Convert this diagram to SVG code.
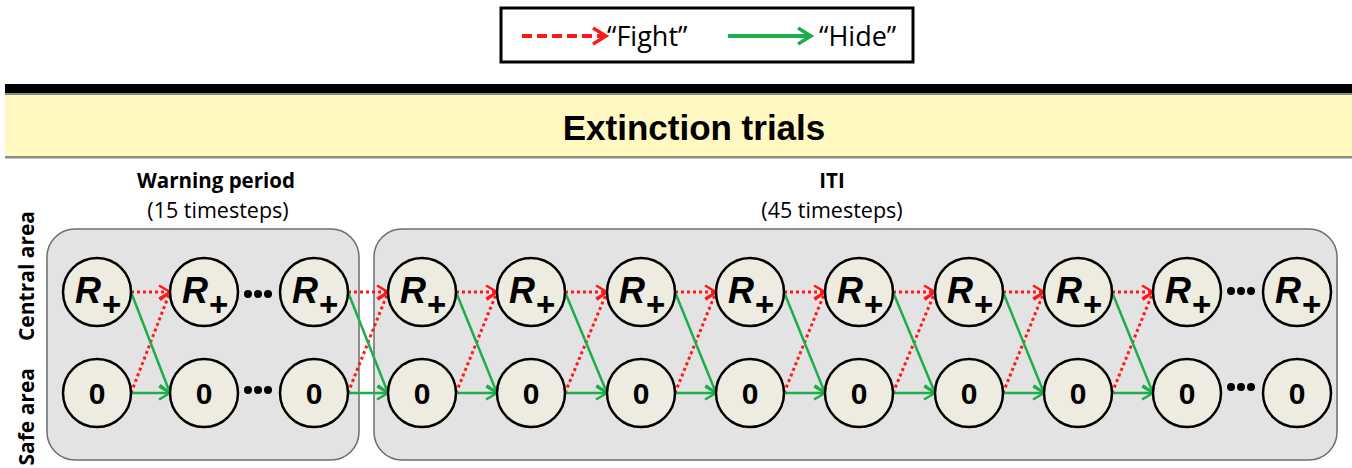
<svg xmlns="http://www.w3.org/2000/svg" width="1352" height="468" viewBox="0 0 1352 468">
<defs>
<style>
.lbl{font-family:"Open Sans","Liberation Sans",sans-serif;fill:#000}
.b{font-weight:bold}
.box{fill:#E3E3E3;stroke:#6E6E6E;stroke-width:1.5}
.node circle{fill:#EEEBE1;stroke:#000;stroke-width:2.5}
.rt{font-family:"Liberation Sans",Arial,sans-serif;font-weight:bold;font-style:italic;font-size:36px}
.pt{font-family:"Liberation Sans",Arial,sans-serif;font-weight:bold;font-size:33px}
.zt{font-family:"Liberation Sans",Arial,sans-serif;font-weight:bold;font-size:30px;text-anchor:middle}
.fight{fill:none;stroke:#FF1A1A;stroke-width:3;stroke-dasharray:3 3;marker-end:url(#ar)}
.hide{fill:none;stroke:#1DAE4C;stroke-width:2.5;marker-end:url(#ag)}
.dot{fill:#000}
</style>
<marker id="ar" markerUnits="userSpaceOnUse" markerWidth="16" markerHeight="16" refX="13" refY="8" orient="auto"><path d="M2,1.5 L13,8 L2,14.5" fill="none" stroke="#FF1A1A" stroke-width="2.5"/></marker>
<marker id="ag" markerUnits="userSpaceOnUse" markerWidth="16" markerHeight="16" refX="13" refY="8" orient="auto"><path d="M2,1.5 L13,8 L2,14.5" fill="none" stroke="#1DAE4C" stroke-width="2.5"/></marker>
<marker id="alr" markerUnits="userSpaceOnUse" markerWidth="20" markerHeight="20" refX="16" refY="10" orient="auto"><path d="M3,2 L16,10 L3,18" fill="none" stroke="#FF1A1A" stroke-width="3.5"/></marker>
<marker id="alg" markerUnits="userSpaceOnUse" markerWidth="20" markerHeight="20" refX="16" refY="10" orient="auto"><path d="M3,2 L16,10 L3,18" fill="none" stroke="#1DAE4C" stroke-width="3.5"/></marker>
</defs>
<rect width="1352" height="468" fill="#fff"/>

<g id="legend">
<rect x="501" y="8" width="412" height="54" fill="#fff" stroke="#000" stroke-width="3"/>
<line x1="522" y1="36" x2="606" y2="36" stroke="#FF1A1A" stroke-width="4" stroke-dasharray="10 5" marker-end="url(#alr)"/>
<text class="lbl" x="607" y="46" font-size="27">“Fight”</text>
<line x1="728" y1="36" x2="811" y2="36" stroke="#1DAE4C" stroke-width="4" marker-end="url(#alg)"/>
<text class="lbl" x="819" y="46" font-size="27">“Hide”</text>
</g>

<g id="header">
<rect x="5" y="84" width="1347" height="9" fill="#000"/>
<rect x="5" y="93" width="1347" height="2" fill="#8C8C78"/>
<rect x="5" y="95" width="1347" height="61" fill="#FFF8C1"/>
<rect x="5" y="156" width="1347" height="2.5" fill="#8C8C80"/>
<text x="694" y="140" font-family="Liberation Sans, Arial, sans-serif" font-weight="bold" font-size="35" text-anchor="middle">Extinction trials</text>
</g>

<g id="labels">
<text class="lbl b" x="216" y="188" font-size="20.5" text-anchor="middle">Warning period</text>
<text class="lbl" x="218" y="218" font-size="21.5" text-anchor="middle">(15 timesteps)</text>
<text class="lbl b" x="832" y="188" font-size="20.5" text-anchor="middle">ITI</text>
<text class="lbl" x="832" y="218" font-size="21.5" text-anchor="middle">(45 timesteps)</text>
<text class="lbl b" transform="translate(34,276) rotate(-90)" font-size="21" text-anchor="middle">Central area</text>
<text class="lbl b" transform="translate(34,368) rotate(-90)" font-size="21" text-anchor="end">Safe area</text>
</g>

<g id="warning-box"><rect class="box" x="47" y="229" width="312" height="231" rx="28"/></g>
<g id="iti-box"><rect class="box" x="374" y="229" width="963" height="231" rx="28"/></g>

<g id="connectors">
<path class="fight" d="M131,292 H170"/><path class="fight" d="M131,393 L170,292"/><path class="hide" d="M131,292 L170,393"/><path class="hide" d="M131,393 H170"/>
<path class="fight" d="M348,292 H388"/><path class="fight" d="M348,393 L388,292"/><path class="hide" d="M348,292 L388,393"/><path class="hide" d="M348,393 H388"/>
<path class="fight" d="M456,292 H497"/><path class="fight" d="M456,393 L497,292"/><path class="hide" d="M456,292 L497,393"/><path class="hide" d="M456,393 H497"/>
<path class="fight" d="M565,292 H607"/><path class="fight" d="M565,393 L607,292"/><path class="hide" d="M565,292 L607,393"/><path class="hide" d="M565,393 H607"/>
<path class="fight" d="M675,292 H716"/><path class="fight" d="M675,393 L716,292"/><path class="hide" d="M675,292 L716,393"/><path class="hide" d="M675,393 H716"/>
<path class="fight" d="M784,292 H825"/><path class="fight" d="M784,393 L825,292"/><path class="hide" d="M784,292 L825,393"/><path class="hide" d="M784,393 H825"/>
<path class="fight" d="M893,292 H935"/><path class="fight" d="M893,393 L935,292"/><path class="hide" d="M893,292 L935,393"/><path class="hide" d="M893,393 H935"/>
<path class="fight" d="M1003,292 H1044"/><path class="fight" d="M1003,393 L1044,292"/><path class="hide" d="M1003,292 L1044,393"/><path class="hide" d="M1003,393 H1044"/>
<path class="fight" d="M1112,292 H1153"/><path class="fight" d="M1112,393 L1153,292"/><path class="hide" d="M1112,292 L1153,393"/><path class="hide" d="M1112,393 H1153"/>
</g>

<g id="ellipses">
<circle class="dot" cx="248" cy="294" r="4"/><circle class="dot" cx="258" cy="294" r="4"/><circle class="dot" cx="268" cy="294" r="4"/>
<circle class="dot" cx="248" cy="390" r="4"/><circle class="dot" cx="258" cy="390" r="4"/><circle class="dot" cx="268" cy="390" r="4"/>
<circle class="dot" cx="1231" cy="291" r="4"/><circle class="dot" cx="1241" cy="291" r="4"/><circle class="dot" cx="1251" cy="291" r="4"/>
<circle class="dot" cx="1231" cy="387" r="4"/><circle class="dot" cx="1241" cy="387" r="4"/><circle class="dot" cx="1251" cy="387" r="4"/>
</g>

<g id="n-r1" class="node"><circle cx="97" cy="292" r="34"/><text class="rt" x="75" y="303">R</text><text class="pt" x="102" y="316">+</text></g>
<g id="n-r2" class="node"><circle cx="204" cy="292" r="34"/><text class="rt" x="182" y="303">R</text><text class="pt" x="209" y="316">+</text></g>
<g id="n-r3" class="node"><circle cx="314" cy="292" r="34"/><text class="rt" x="292" y="303">R</text><text class="pt" x="319" y="316">+</text></g>
<g id="n-r4" class="node"><circle cx="422" cy="292" r="34"/><text class="rt" x="400" y="303">R</text><text class="pt" x="427" y="316">+</text></g>
<g id="n-r5" class="node"><circle cx="531" cy="292" r="34"/><text class="rt" x="509" y="303">R</text><text class="pt" x="536" y="316">+</text></g>
<g id="n-r6" class="node"><circle cx="641" cy="292" r="34"/><text class="rt" x="619" y="303">R</text><text class="pt" x="646" y="316">+</text></g>
<g id="n-r7" class="node"><circle cx="750" cy="292" r="34"/><text class="rt" x="728" y="303">R</text><text class="pt" x="755" y="316">+</text></g>
<g id="n-r8" class="node"><circle cx="859" cy="292" r="34"/><text class="rt" x="837" y="303">R</text><text class="pt" x="864" y="316">+</text></g>
<g id="n-r9" class="node"><circle cx="969" cy="292" r="34"/><text class="rt" x="947" y="303">R</text><text class="pt" x="974" y="316">+</text></g>
<g id="n-r10" class="node"><circle cx="1078" cy="292" r="34"/><text class="rt" x="1056" y="303">R</text><text class="pt" x="1083" y="316">+</text></g>
<g id="n-r11" class="node"><circle cx="1187" cy="292" r="34"/><text class="rt" x="1165" y="303">R</text><text class="pt" x="1192" y="316">+</text></g>
<g id="n-r12" class="node"><circle cx="1297" cy="292" r="34"/><text class="rt" x="1275" y="303">R</text><text class="pt" x="1302" y="316">+</text></g>

<g id="n-s1" class="node"><circle cx="97" cy="393" r="34"/><text class="zt" x="97" y="404">0</text></g>
<g id="n-s2" class="node"><circle cx="204" cy="393" r="34"/><text class="zt" x="204" y="404">0</text></g>
<g id="n-s3" class="node"><circle cx="314" cy="393" r="34"/><text class="zt" x="314" y="404">0</text></g>
<g id="n-s4" class="node"><circle cx="422" cy="393" r="34"/><text class="zt" x="422" y="404">0</text></g>
<g id="n-s5" class="node"><circle cx="531" cy="393" r="34"/><text class="zt" x="531" y="404">0</text></g>
<g id="n-s6" class="node"><circle cx="641" cy="393" r="34"/><text class="zt" x="641" y="404">0</text></g>
<g id="n-s7" class="node"><circle cx="750" cy="393" r="34"/><text class="zt" x="750" y="404">0</text></g>
<g id="n-s8" class="node"><circle cx="859" cy="393" r="34"/><text class="zt" x="859" y="404">0</text></g>
<g id="n-s9" class="node"><circle cx="969" cy="393" r="34"/><text class="zt" x="969" y="404">0</text></g>
<g id="n-s10" class="node"><circle cx="1078" cy="393" r="34"/><text class="zt" x="1078" y="404">0</text></g>
<g id="n-s11" class="node"><circle cx="1187" cy="393" r="34"/><text class="zt" x="1187" y="404">0</text></g>
<g id="n-s12" class="node"><circle cx="1297" cy="393" r="34"/><text class="zt" x="1297" y="404">0</text></g>
</svg>
